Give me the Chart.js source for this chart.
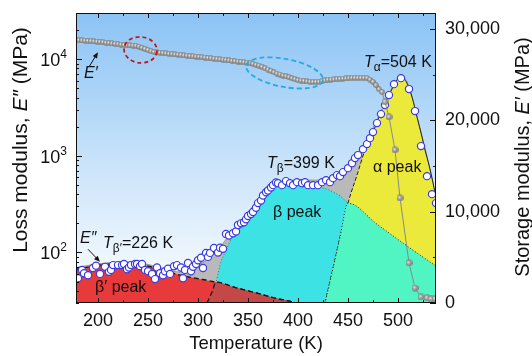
<!DOCTYPE html>
<html lang="en">
<head>
<meta charset="UTF-8">
<title>Loss and storage modulus vs temperature</title>
<script src="https://cdn.jsdelivr.net/npm/chart.js"></script>
<style>
  body { margin: 0; background: #fff; }
  #wrap { width: 532px; height: 356px; }
</style>
</head>
<body>
<div id="wrap"><canvas id="chart" width="532" height="356"></canvas></div>
<script>
// ---- data ----
// loss modulus E'' (MPa, log axis), open circles
const lossTemps = [180,184,186,190,195,198,202,207,211,213,215,220,224,226,229,231,233,237,239,242,244,247,250,254,257,259,262,265,267,270,272,276,279,283,285,287,290,293,295,298,300,303,305,308,310,312,316,320,322,325,328,331,335,338,340,343,346,348,350,353,355,358,360,363,365,368,370,373,375,378,380,384,388,392,395,399,404,407,410,415,420,424,428,432,435,439,442,445,450,454,457,460,465,469,472,475,479,483,487,491,496,503,511,517,523,529,534,538];
const lossValues = [54,66,61,58,69,73,60,71,63,66,74,74,74,76,67,70,74,76,76,72,76,66,64,60,53,70,61,58,64,68,60,72,74,70,54,66,78,64,71,76,83,88,69,99,90,99,111,100,112,109,155,150,158,165,192,200,205,220,238,250,262,290,324,345,389,420,437,470,497,530,521,497,547,521,497,534,521,534,497,497,497,534,560,534,587,631,616,678,745,839,946,1017,1172,1321,1523,1758,2178,2699,3344,4244,5510,6355,4898,2900,1259,616,401,324];

// storage modulus E' (MPa, linear right axis), grey spheres
const storageTemps = [178,181,184,187,190,193,196,199,202,205,208,211,214,217,220,223,226,229,232,235,238,241,244,247,250,253,256,259,262,265,268,271,274,277,280,283,286,289,292,295,298,301,304,307,310,313,316,319,322,325,328,331,334,337,340,343,346,349,352,355,358,361,364,367,370,373,376,379,382,385,388,391,394,397,400,403,406,409,412,415,418,421,424,427,430,433,436,439,442,445,448,451,454,457,460,463,466,469,472,475,478,481,484,487,491,497,502,511,517,523,529,533,537];
const storageValues = [28800,28770,28750,28720,28690,28670,28640,28620,28590,28550,28500,28460,28420,28370,28330,28290,28250,28230,28200,28180,28160,28070,27940,27820,27700,27570,27480,27440,27400,27360,27320,27280,27250,27220,27180,27150,27110,27080,27040,27010,26980,26950,26910,26870,26830,26790,26750,26710,26670,26640,26600,26560,26520,26480,26440,26400,26360,26330,26290,26190,26090,25990,25860,25710,25560,25400,25260,25120,25010,24900,24820,24710,24600,24490,24400,24350,24310,24260,24210,24200,24200,24210,24270,24360,24430,24450,24480,24510,24530,24560,24580,24610,24630,24640,24640,24640,24640,24630,24450,24210,23850,23400,23110,22015,20370,16760,11500,4380,1640,660,550,440,440];

// fitted peaks (log axis)
const envTemps = [178,200,225,245,262,282,302,317,332,345,352,360,375,390,405,420,432,440,445,450,460,470,480,490,499,503,509,514,519,524,531,535,540];
const envValues = [70,76,80,77,70,62.7,76,98,155,225,275,350,485,547,560,560,560,600,678,782,1066,1561,2455,4141,6190,6670,5790,4100,2550,1590,810,530,280];

const betaPrimeTemps = [178,200,225,245,262,282,300,318,339,359,378,395,400];
const betaPrimeValues = [67,73.5,77.6,74,67.3,58.3,53.6,49.3,42.8,37.9,33.5,30.6,29];

const betaTemps = [309,314,318,323,327,335,345,359,369,375,389,402,415,429,435,442,450,479,512,540];
const betaValues = [30,38.9,49.3,80,100,150,212,320,411,463,521,509,486,452,422,384,324,196,111,70];

const alphaTemps = [427,438,442,450,459,467,475,484,492,499,503,509,514,519,524,527,531,535,538,541];
const alphaValues = [30,93.8,144,324,631,1146,1758,2967,4450,6070,6517,5646,4046,2515,1563,1146,801,523,366,260];

// overlap of alpha and beta peaks
const abTemps = [427,438,442,450,479,512,540];
const abValues = [30,93.8,144,324,196,111,70];

// overlap of beta' and beta peaks
const bbTemps = [309,314,318,339,359,378,395,400];
const bbValues = [30,38.9,49.3,42.8,37.9,33.5,30.6,29];

const xTicks = [200, 250, 300, 350, 400, 450, 500];
const xMinor = [225, 275, 325, 375, 425, 475, 525];
const leftTicks = [100, 1000, 10000];
const leftExp = ['2', '3', '4'];
const rightTicks = [0, 10000, 20000, 30000];
const rightMinor = [5000, 15000, 25000];

const FONT = "'Liberation Sans', Arial, sans-serif";

function pts(xs, ys) {
  return xs.map((x, i) => ({ x: x, y: ys[i] }));
}

function makeBall(d) {
  const c = document.createElement('canvas');
  c.width = d; c.height = d;
  const g = c.getContext('2d');
  const r = d / 2;
  const grad = g.createRadialGradient(r * 0.75, r * 0.7, 0.1, r, r, r);
  grad.addColorStop(0, '#f6f6f6');
  grad.addColorStop(0.4, '#aaaaaa');
  grad.addColorStop(1, '#727272');
  g.fillStyle = grad;
  g.beginPath();
  g.arc(r, r, r - 0.2, 0, Math.PI * 2);
  g.fill();
  return c;
}
const smallBall = makeBall(6);
const bigBall = makeBall(7);

function drawRich(ctx, parts, x, y, align) {
  let w = 0;
  parts.forEach(p => { ctx.font = p[1]; w += ctx.measureText(p[0]).width; });
  let cx = align === 'center' ? x - w / 2 : x;
  parts.forEach(p => {
    ctx.font = p[1];
    ctx.fillText(p[0], cx, y + (p[2] || 0));
    cx += ctx.measureText(p[0]).width;
  });
}

function arrow(ctx, x1, y1, x2, y2) {
  const a = Math.atan2(y2 - y1, x2 - x1);
  ctx.beginPath();
  ctx.moveTo(x1, y1);
  ctx.lineTo(x2 - 4 * Math.cos(a), y2 - 4 * Math.sin(a));
  ctx.stroke();
  ctx.beginPath();
  ctx.moveTo(x2, y2);
  ctx.lineTo(x2 - 6 * Math.cos(a) + 2.5 * Math.sin(a), y2 - 6 * Math.sin(a) - 2.5 * Math.cos(a));
  ctx.lineTo(x2 - 6 * Math.cos(a) - 2.5 * Math.sin(a), y2 - 6 * Math.sin(a) + 2.5 * Math.cos(a));
  ctx.closePath();
  ctx.fill();
}

const background = {
  id: 'background',
  beforeDatasetsDraw(chart) {
    const { ctx, chartArea: a } = chart;
    const g = ctx.createLinearGradient(0, a.top, 0, a.bottom);
    g.addColorStop(0, '#8bc3f5');
    g.addColorStop(0.55, '#cde5fa');
    g.addColorStop(1, '#ffffff');
    ctx.save();
    ctx.fillStyle = g;
    ctx.fillRect(a.left, a.top, a.right - a.left, a.bottom - a.top);
    ctx.restore();
  }
};

const annotations = {
  id: 'annotations',
  afterDatasetsDraw(chart) {
    const { ctx } = chart;
    const xs = chart.scales.x, ys = chart.scales.y, y2 = chart.scales.y2;
    const px = v => xs.getPixelForValue(v);
    const py = v => ys.getPixelForValue(v);
    ctx.save();
    ctx.lineWidth = 1.8;
    // red dashed ellipse
    ctx.strokeStyle = '#c0191c';
    ctx.setLineDash([4, 3]);
    ctx.beginPath();
    ctx.ellipse(px(242.5), y2.getPixelForValue(27710), 16.5, 13, 0.1, 0, Math.PI * 2);
    ctx.stroke();
    // cyan dashed ellipse
    ctx.strokeStyle = '#27a9e1';
    ctx.setLineDash([5, 3]);
    ctx.beginPath();
    ctx.ellipse(px(386.5), y2.getPixelForValue(25190), 39, 14, 0.19, 0, Math.PI * 2);
    ctx.stroke();
    ctx.setLineDash([]);

    ctx.fillStyle = '#111';
    ctx.strokeStyle = '#111';
    ctx.lineWidth = 1;
    ctx.textAlign = 'left';
    ctx.textBaseline = 'alphabetic';
    const reg = '16px ' + FONT, ita = 'italic 16px ' + FONT, sub = '12px ' + FONT;
    drawRich(ctx, [['E′', ita]], px(186), py(6350));
    arrow(ctx, px(191), py(8300), px(200), py(11800));
    drawRich(ctx, [['E″', ita]], px(182), py(125));
    arrow(ctx, px(190), py(108), px(202), py(80));
    drawRich(ctx, [['T', ita], ['β′', sub, 4], ['=226 K', reg]], px(205), py(111));
    drawRich(ctx, [['β′ peak', reg]], px(197), py(38.9));
    drawRich(ctx, [['T', ita], ['β', sub, 4], ['=399 K', reg]], px(369), py(745));
    drawRich(ctx, [['β peak', reg]], px(375), py(232));
    drawRich(ctx, [['T', ita], ['α', sub, 4], ['=504 K', reg]], px(466), py(8264));
    drawRich(ctx, [['α peak', reg]], px(475), py(678));
    ctx.restore();
  }
};

const frame = {
  id: 'frame',
  afterDraw(chart) {
    const { ctx, chartArea: a } = chart;
    const xs = chart.scales.x, ys = chart.scales.y, y2 = chart.scales.y2;
    ctx.save();
    ctx.strokeStyle = '#111';
    ctx.lineWidth = 1;
    ctx.strokeRect(a.left + 0.5, a.top + 0.5, a.right - a.left - 1, a.bottom - a.top - 1);
    ctx.beginPath();
    xTicks.forEach(v => {
      const x = Math.round(xs.getPixelForValue(v)) + 0.5;
      ctx.moveTo(x, a.bottom); ctx.lineTo(x, a.bottom - 5);
      ctx.moveTo(x, a.top); ctx.lineTo(x, a.top + 5);
    });
    xMinor.forEach(v => {
      const x = Math.round(xs.getPixelForValue(v)) + 0.5;
      ctx.moveTo(x, a.bottom); ctx.lineTo(x, a.bottom - 3);
      ctx.moveTo(x, a.top); ctx.lineTo(x, a.top + 3);
    });
    leftTicks.forEach(v => {
      const y = Math.round(ys.getPixelForValue(v)) + 0.5;
      ctx.moveTo(a.left, y); ctx.lineTo(a.left + 6, y);
    });
    [10, 100, 1000, 10000].forEach(d => {
      for (let k = 2; k <= 9; k++) {
        const v = k * d;
        if (v < ys.min || v > ys.max) continue;
        const y = Math.round(ys.getPixelForValue(v)) + 0.5;
        ctx.moveTo(a.left, y); ctx.lineTo(a.left + 3, y);
      }
    });
    rightTicks.forEach(v => {
      const y = Math.round(y2.getPixelForValue(v)) + 0.5;
      ctx.moveTo(a.right, y); ctx.lineTo(a.right - 6, y);
    });
    rightMinor.forEach(v => {
      const y = Math.round(y2.getPixelForValue(v)) + 0.5;
      ctx.moveTo(a.right, y); ctx.lineTo(a.right - 3, y);
    });
    ctx.stroke();

    ctx.fillStyle = '#111';
    ctx.font = '18px ' + FONT;
    ctx.textAlign = 'center';
    ctx.textBaseline = 'alphabetic';
    xTicks.forEach(v => ctx.fillText(String(v), xs.getPixelForValue(v), a.bottom + 23));

    ctx.textAlign = 'left';
    ctx.textBaseline = 'middle';
    rightTicks.forEach(v => ctx.fillText(v.toLocaleString('en-US'), a.right + 9, y2.getPixelForValue(v)));

    ctx.textBaseline = 'alphabetic';
    leftTicks.forEach((v, i) => {
      const y = ys.getPixelForValue(v);
      ctx.font = '12px ' + FONT;
      const ew = ctx.measureText(leftExp[i]).width;
      ctx.fillText(leftExp[i], a.left - 9 - ew, y - 1);
      ctx.font = '18px ' + FONT;
      ctx.textAlign = 'right';
      ctx.fillText('10', a.left - 9 - ew, y + 7);
      ctx.textAlign = 'left';
    });

    // axis titles
    const reg = '18.5px ' + FONT;
    drawRich(ctx, [['Temperature (K)', reg]], (a.left + a.right) / 2, a.bottom + 46, 'center');
    ctx.save();
    ctx.translate(27, 140);
    ctx.rotate(-Math.PI / 2);
    drawRich(ctx, [['Loss modulus, ', '21px ' + FONT], ['E″', 'italic 21px ' + FONT], [' (MPa)', '21px ' + FONT]], 0, 0, 'center');
    ctx.restore();
    ctx.save();
    ctx.translate(529, 157);
    ctx.rotate(-Math.PI / 2);
    drawRich(ctx, [['Storage modulus, ', '20px ' + FONT], ['E′', 'italic 20px ' + FONT], [' (MPa)', '20px ' + FONT]], 0, 0, 'center');
    ctx.restore();
    ctx.restore();
  }
};

function peak(data, fillColor, line, order) {
  return Object.assign({
    data: data,
    yAxisID: 'y',
    backgroundColor: fillColor,
    fill: 'start',
    pointRadius: 0,
    cubicInterpolationMode: 'monotone',
    order: order
  }, line);
}

new Chart(document.getElementById('chart'), {
  type: 'line',
  data: {
    datasets: [
      peak(pts(envTemps, envValues), '#b9b9b9', { borderColor: 'rgba(110,110,110,0.8)', borderWidth: 0.8 }, 9),
      peak(pts(betaTemps, betaValues), '#3de3e4', { borderColor: '#1f7f80', borderWidth: 1, borderDash: [1, 2] }, 8),
      peak(pts(alphaTemps, alphaValues), '#ebea3b', {
        borderColor: '#222', borderWidth: 1,
        segment: { borderDash: c => c.p0.parsed.x < 503 ? [4, 2] : undefined }
      }, 7),
      peak(pts(betaPrimeTemps, betaPrimeValues), '#e83a3a', { borderColor: '#111', borderWidth: 1.3, borderDash: [5, 3] }, 6),
      peak(pts(abTemps, abValues), '#50f5c3', { borderColor: '#222', borderWidth: 1, borderDash: [1, 2] }, 5),
      peak(pts(bbTemps, bbValues), '#c44848', { borderColor: '#111', borderWidth: 1.3, borderDash: [5, 3] }, 4),
      {
        data: pts(lossTemps, lossValues),
        yAxisID: 'y',
        showLine: false,
        pointStyle: 'circle',
        pointRadius: 3.6,
        pointBackgroundColor: '#ffffff',
        pointBorderColor: '#3a3ae0',
        pointBorderWidth: 1.2,
        order: 2
      },
      {
        data: pts(storageTemps, storageValues),
        yAxisID: 'y2',
        borderColor: '#8a8a8a',
        borderWidth: 1,
        segment: { borderWidth: c => c.p1.parsed.x <= 481 ? 4 : 1 },
        fill: false,
        tension: 0,
        pointStyle: c => (c.raw && c.raw.x > 485) ? bigBall : smallBall,
        order: 1
      }
    ]
  },
  options: {
    responsive: false,
    animation: false,
    devicePixelRatio: 1,
    layout: { padding: { left: 76, right: 96, top: 13, bottom: 53 } },
    plugins: { legend: { display: false }, tooltip: { enabled: false } },
    scales: {
      x: { type: 'linear', min: 178, max: 538, display: false },
      y: { type: 'logarithmic', min: 30, max: 30000, display: false },
      y2: { type: 'linear', position: 'right', min: 0, max: 31750, display: false }
    }
  },
  plugins: [background, annotations, frame]
});
</script>
</body>
</html>
